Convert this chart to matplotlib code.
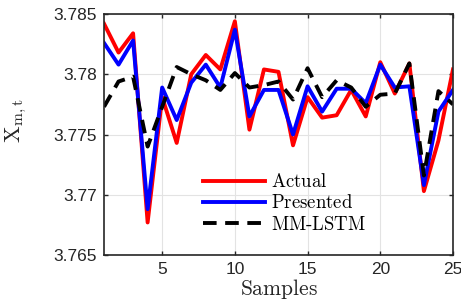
import numpy as np
import matplotlib
matplotlib.use('Agg')
import matplotlib.pyplot as plt

plt.rcParams['mathtext.fontset'] = 'cm'
plt.rcParams['font.family'] = ['Liberation Sans', 'DejaVu Sans']

# muestras 1..25
samples = np.arange(1, 26)

actual = [3.7842, 3.7818, 3.7834, 3.7677, 3.7781, 3.7743, 3.7800, 3.7816, 3.7804, 3.7844,
          3.7754, 3.7804, 3.7802, 3.7741, 3.7781, 3.7764, 3.7766, 3.7787, 3.7765, 3.7810,
          3.7784, 3.7809, 3.7703, 3.7745, 3.7804]
presented = [3.7826, 3.7808, 3.7828, 3.7688, 3.7789, 3.7762, 3.7793, 3.7808, 3.7789, 3.7837,
             3.7765, 3.7787, 3.7787, 3.7750, 3.7790, 3.7769, 3.7788, 3.7788, 3.7776, 3.7808,
             3.7789, 3.7790, 3.7708, 3.7769, 3.7787]
mmlstm = [3.7773, 3.7794, 3.7798, 3.7740, 3.7773, 3.7806, 3.7800, 3.7795, 3.7787, 3.7801,
          3.7789, 3.7791, 3.7794, 3.7779, 3.7805, 3.7781, 3.7795, 3.7789, 3.7773, 3.7783,
          3.7784, 3.7809, 3.7716, 3.7786, 3.7775]

fig = plt.figure(figsize=(4.61, 3.04), dpi=100)
ax = fig.add_axes([0.2256, 0.1612, 0.757, 0.7927])

ax.plot(samples, actual, color='#ff0000', lw=2.8, label=r'$\mathrm{Actual}$')
ax.plot(samples, presented, color='#0000ff', lw=2.8, label=r'$\mathrm{Presented}$')
ax.plot(samples, mmlstm, color='k', lw=2.8, ls=(0, (3.5, 2.2)), label=r'$\mathrm{MM\text{-}LSTM}$')

ax.set_xlim(1, 25)
ax.set_ylim(3.765, 3.785)
ax.set_xticks([5, 10, 15, 20, 25])
ax.set_yticks([3.765, 3.77, 3.775, 3.78, 3.785])
ax.set_yticklabels(['3.765', '3.77', '3.775', '3.78', '3.785'])
ax.tick_params(direction='in', top=True, right=True, labelsize=12.5, length=3, width=1,
               colors='#262626', pad=5)
ax.grid(True, color='#e3e3e3', lw=0.8)
ax.set_axisbelow(True)
for s in ax.spines.values():
    s.set_linewidth(1.2)
    s.set_color('#262626')

ax.set_xlabel(r'$\mathrm{Samples}$', fontsize=15.5, labelpad=0, color='#262626')
ax.set_ylabel(r'$\mathrm{X_{m,t}}$', fontsize=16, color='#262626')
ax.yaxis.set_label_coords(-0.215, 0.56)

leg = ax.legend(loc='lower right', bbox_to_anchor=(0.80, 0.019), frameon=False, fontsize=13.5,
                handlelength=3.3, handletextpad=0.35, labelspacing=0.17)

fig.savefig('out.png', dpi=100)
